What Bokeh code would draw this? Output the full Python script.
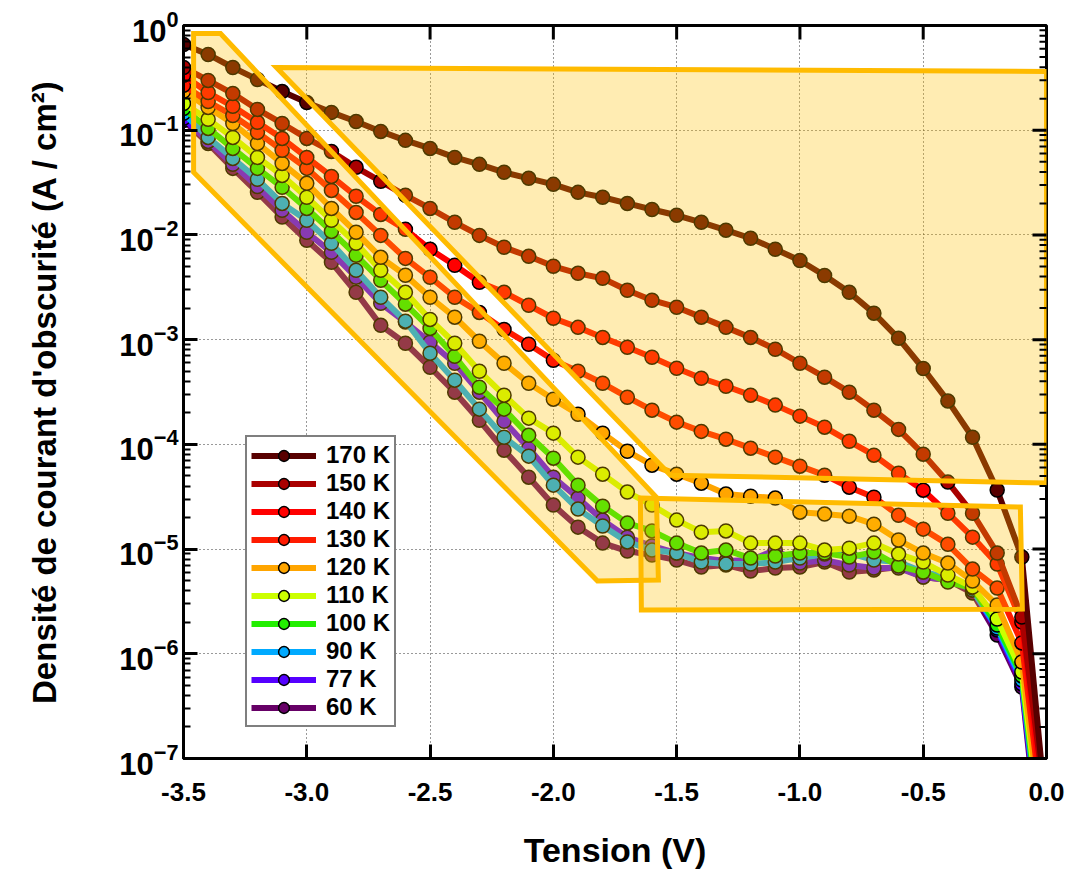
import math
from bokeh.plotting import figure
from bokeh.models import FixedTicker, LogTickFormatter, Legend, LegendItem, Range1d
from bokeh.embed import file_html
from bokeh.resources import INLINE

# ---------------- data ----------------
voltage = [-3.5, -3.4, -3.3, -3.2, -3.1, -3.0, -2.9, -2.8, -2.7, -2.6,
           -2.5, -2.4, -2.3, -2.2, -2.1, -2.0, -1.9, -1.8, -1.7, -1.6,
           -1.5, -1.4, -1.3, -1.2, -1.1, -1.0, -0.9, -0.8, -0.7, -0.6,
           -0.5, -0.4, -0.3, -0.2, -0.1, 0.0]

j_170K = [0.659, 0.529, 0.397, 0.305, 0.234, 0.184, 0.148, 0.121, 0.0974, 0.080,
          0.067, 0.055, 0.0472, 0.0396, 0.0347, 0.0304, 0.0255, 0.0229, 0.0200, 0.0175,
          0.0154, 0.0132, 0.0111, 0.0093, 0.0073, 0.0057, 0.0041, 0.00283, 0.00179, 0.00103,
          5.3e-4, 2.6e-4, 1.17e-4, 3.66e-5, 8.4e-6, 2.7e-8]
j_150K = [0.397, 0.299, 0.224, 0.158, 0.116, 0.0835, 0.0627, 0.0442, 0.0325, 0.0239,
          0.0179, 0.0132, 0.0099, 0.00762, 0.00625, 0.00502, 0.00430, 0.00385, 0.00296, 0.00238,
          0.00204, 0.00164, 0.00131, 0.00105, 8.1e-4, 5.95e-4, 4.38e-4, 3.15e-4, 2.12e-4, 1.39e-4,
          8.06e-5, 4.36e-5, 2.2e-5, 9.16e-6, 2.24e-6, 3e-8]
j_140K = [0.334, 0.229, 0.169, 0.119, 0.0835, 0.0550, 0.0362, 0.0234, 0.0157, 0.0113,
          0.00729, 0.00513, 0.00353, 0.00283, 0.00213, 0.0016, 0.00131, 0.00105, 8.46e-4, 6.79e-4,
          5.33e-4, 4.28e-4, 3.59e-4, 2.95e-4, 2.37e-4, 1.86e-4, 1.46e-4, 1.07e-4, 7.88e-5, 5.3e-5,
          3.65e-5, 2.2e-5, 1.3e-5, 7.19e-6, 2.01e-6, 2e-8]
j_130K = [0.268, 0.188, 0.138, 0.0953, 0.0642, 0.0432, 0.0266, 0.0164, 0.0099, 0.00597,
          0.00394, 0.00254, 0.00182, 0.00125, 9.04e-4, 6.36e-4, 4.99e-4, 3.83e-4, 2.82e-4, 2.12e-4,
          1.63e-4, 1.33e-4, 1.12e-4, 9.2e-5, 7.55e-5, 6.19e-5, 5.08e-5, 3.9e-5, 3.13e-5, 2.1e-5,
          1.55e-5, 1.11e-5, 6.44e-6, 4.24e-6, 1.27e-6, 1.5e-8]
j_120K = [0.235, 0.165, 0.116, 0.0748, 0.0482, 0.0311, 0.0179, 0.0106, 0.00611, 0.00412,
          0.00254, 0.00164, 9.65e-4, 5.95e-4, 3.83e-4, 2.7e-4, 1.94e-4, 1.28e-4, 8.6e-5, 6.33e-5,
          5.19e-5, 4.26e-5, 3.35e-5, 3.2e-5, 3.07e-5, 2.25e-5, 2.16e-5, 2.06e-5, 1.73e-5, 1.22e-5,
          9.16e-6, 7.35e-6, 4.95e-6, 2.92e-6, 8.35e-7, 1e-8]
j_110K = [0.18, 0.127, 0.0853, 0.055, 0.037, 0.0229, 0.0138, 0.00831, 0.00459, 0.00283,
          0.00156, 9.24e-4, 4.99e-4, 2.95e-4, 1.78e-4, 1.28e-4, 7.55e-5, 5.19e-5, 3.5e-5, 2.63e-5,
          1.89e-5, 1.45e-5, 1.49e-5, 1.14e-5, 1.14e-5, 1.14e-5, 9.78e-6, 1.02e-5, 1.14e-5, 8.96e-6,
          7.51e-6, 5.65e-6, 4.34e-6, 2.15e-6, 6.7e-7, 8e-9]
j_100K = [0.161, 0.104, 0.067, 0.0432, 0.0285, 0.0179, 0.0108, 0.0064, 0.00369, 0.00218,
          0.00128, 6.94e-4, 3.51e-4, 2.17e-4, 1.22e-4, 7.38e-5, 4.08e-5, 2.57e-5, 1.77e-5, 1.49e-5,
          1.14e-5, 9.16e-6, 9.78e-6, 8.2e-6, 8.57e-6, 9.16e-6, 9.16e-6, 8.38e-6, 9.36e-6, 6.88e-6,
          6.03e-6, 4.84e-6, 4.24e-6, 1.88e-6, 6.14e-7, 6e-9]
j_90K = [0.145, 0.0853, 0.0538, 0.034, 0.02, 0.0138, 0.00831, 0.00459, 0.00254, 0.0015,
         7.42e-4, 4.1e-4, 2.17e-4, 1.17e-4, 7.72e-5, 4.08e-5, 2.41e-5, 1.66e-5, 1.17e-5, 9.78e-6,
         9.16e-6, 7.51e-6, 7.19e-6, 7.19e-6, 7.51e-6, 8.2e-6, 8.96e-6, 9.16e-6, 7.85e-6, 7.51e-6,
         6.03e-6, 5.4e-6, 4.06e-6, 1.76e-6, 5.62e-7, 5e-9]
j_77K = [0.130, 0.0782, 0.0472, 0.029, 0.0172, 0.0106, 0.00682, 0.00394, 0.00222, 0.00147,
         9.45e-4, 5.95e-4, 3.15e-4, 1.66e-4, 9.2e-5, 4.86e-5, 3.07e-5, 1.89e-5, 1.3e-5, 1.07e-5,
         9.16e-6, 8.2e-6, 7.68e-6, 7.85e-6, 9.78e-6, 7.35e-6, 7.85e-6, 7.03e-6, 6.59e-6, 6.59e-6,
         5.4e-6, 5.06e-6, 4.06e-6, 1.69e-6, 5.15e-7, 4e-9]
j_60K = [0.124, 0.0748, 0.0432, 0.0255, 0.0148, 0.00888, 0.00547, 0.00283, 0.00137, 9.24e-4,
         5.45e-4, 3.15e-4, 1.7e-4, 8.8e-5, 4.86e-5, 2.63e-5, 1.62e-5, 1.14e-5, 9.57e-6, 8.76e-6,
         7.85e-6, 6.73e-6, 7.03e-6, 6.16e-6, 6.59e-6, 6.73e-6, 7.51e-6, 6.03e-6, 6.3e-6, 6.73e-6,
         5.4e-6, 5.06e-6, 3.8e-6, 1.51e-6, 4.82e-7, 3e-9]

labels = ["170 K", "150 K", "140 K", "130 K", "120 K", "110 K", "100 K", "90 K", "77 K", "60 K"]
series = [j_170K, j_150K, j_140K, j_130K, j_120K, j_110K, j_100K, j_90K, j_77K, j_60K]
colors = ["#580000", "#aa0000", "#ff0000", "#ff1a00", "#ffa500",
          "#ccff00", "#22ee00", "#00aaff", "#5500ff", "#660066"]

# highlighted zones (voltage, current density)
zone1_v = [-3.459, -3.350, -1.582, -1.574, -1.821, -3.459]
zone1_j = [0.839, 0.839, 3.13e-5, 5.06e-6, 4.95e-6, 0.0396]
zone2_v = [-3.123, 0.0, 0.0, -1.525]
zone2_j = [0.397, 0.364, 4.27e-5, 5.08e-5]
zone3_v = [-1.647, -0.106, -0.098, -1.643]
zone3_j = [3.07e-5, 2.52e-5, 2.67e-6, 2.62e-6]

x_ticks = [-3.5, -3.0, -2.5, -2.0, -1.5, -1.0, -0.5, 0.0]
x_tick_labels = ["-3.5", "-3.0", "-2.5", "-2.0", "-1.5", "-1.0", "-0.5", "0.0"]
y_ticks = [1e-7, 1e-6, 1e-5, 1e-4, 1e-3, 1e-2, 1e-1, 1.0]
y_minor = [m * d for d in y_ticks[:-1] for m in range(2, 10)]

FONT = "Liberation Sans"

p = figure(width=1079, height=871, x_range=Range1d(-3.5, 0.0), y_range=Range1d(1e-7, 1.0),
           y_axis_type="log", output_backend="svg", toolbar_location=None,
           min_border_left=183, min_border_right=33, min_border_top=25, min_border_bottom=110,
           background_fill_color="white", border_fill_color="white",
           outline_line_color="black", outline_line_width=3)


def style_axis(ax, minor):
    ax.axis_line_width = 3
    ax.axis_line_color = "black"
    ax.major_tick_in = 14
    ax.major_tick_out = 0
    ax.major_tick_line_width = 3
    ax.major_tick_line_color = "black"
    ax.major_label_text_color = "black"
    ax.axis_label_text_color = "black"
    if minor:
        ax.minor_tick_in = 7
        ax.minor_tick_out = 0
        ax.minor_tick_line_width = 2
        ax.minor_tick_line_color = "black"
    else:
        ax.minor_tick_line_color = None


xb = p.xaxis[0]
xb.ticker = FixedTicker(ticks=x_ticks, minor_ticks=[])
xb.major_label_overrides = dict(zip(x_ticks, x_tick_labels))
style_axis(xb, False)
xb.major_label_text_font = FONT
xb.major_label_text_font_style = "bold"
xb.major_label_text_font_size = "26px"
xb.major_label_standoff = 24
xb.axis_label = "Tension (V)"
xb.axis_label_text_font = FONT
xb.axis_label_text_font_style = "bold"
xb.axis_label_text_font_size = "34px"
xb.axis_label_standoff = 27

yl = p.yaxis[0]
yl.ticker = FixedTicker(ticks=y_ticks, minor_ticks=y_minor)
yl.formatter = LogTickFormatter()
style_axis(yl, True)
yl.major_label_text_font = FONT
yl.major_label_text_font_style = "bold"
yl.major_label_text_font_size = "31px"
yl.major_label_standoff = 5
yl.axis_label = "Densité de courant d'obscurité (A / cm²)"
yl.axis_label_text_font = FONT
yl.axis_label_text_font_style = "bold"
yl.axis_label_text_font_size = "33px"
yl.axis_label_standoff = 53

p.xgrid.ticker = FixedTicker(ticks=x_ticks)
p.ygrid.ticker = FixedTicker(ticks=y_ticks)
for g in (p.xgrid[0], p.ygrid[0]):
    g.grid_line_color = "#333333"
    g.grid_line_dash = "1 3"
    g.grid_line_width = 1
    g.minor_grid_line_color = None

renderers = {}
for lab, ys, col in reversed(list(zip(labels, series, colors))):
    lr = p.line(voltage, ys, line_color=col, line_width=6)
    sr = p.scatter(voltage, ys, marker="circle", size=14, fill_color=col,
                   line_color="black", line_width=1.5)
    renderers[lab] = [lr, sr]

for zv, zj in ((zone1_v, zone1_j), (zone2_v, zone2_j), (zone3_v, zone3_j)):
    p.patch(zv, zj, fill_color="#ffc000", fill_alpha=0.3,
            line_color="#ffbb00", line_width=5, line_join="miter")

# inward ticks on the top and right frame edges (half of each dash is clipped by the frame)
p.scatter(x_ticks[1:-1], [1.0] * (len(x_ticks) - 2), marker="dash", angle=math.pi / 2,
          size=28, line_color="black", line_width=3)
p.scatter([0.0] * (len(y_ticks) - 2), y_ticks[1:-1], marker="dash",
          size=28, line_color="black", line_width=3)
p.scatter([0.0] * len(y_minor), y_minor, marker="dash",
          size=14, line_color="black", line_width=2)

legend = Legend(items=[LegendItem(label=lab, renderers=renderers[lab]) for lab in labels],
                location=(62, 31), border_line_color="black", border_line_width=2,
                background_fill_color="white", background_fill_alpha=1.0,
                label_text_font=FONT, label_text_font_style="bold",
                label_text_font_size="24px", label_text_color="black",
                glyph_width=65, glyph_height=27,
                label_standoff=10, spacing=0, padding=4, margin=0, label_height=20)
p.add_layout(legend)

open("out.html", "w").write(file_html(p, INLINE))
